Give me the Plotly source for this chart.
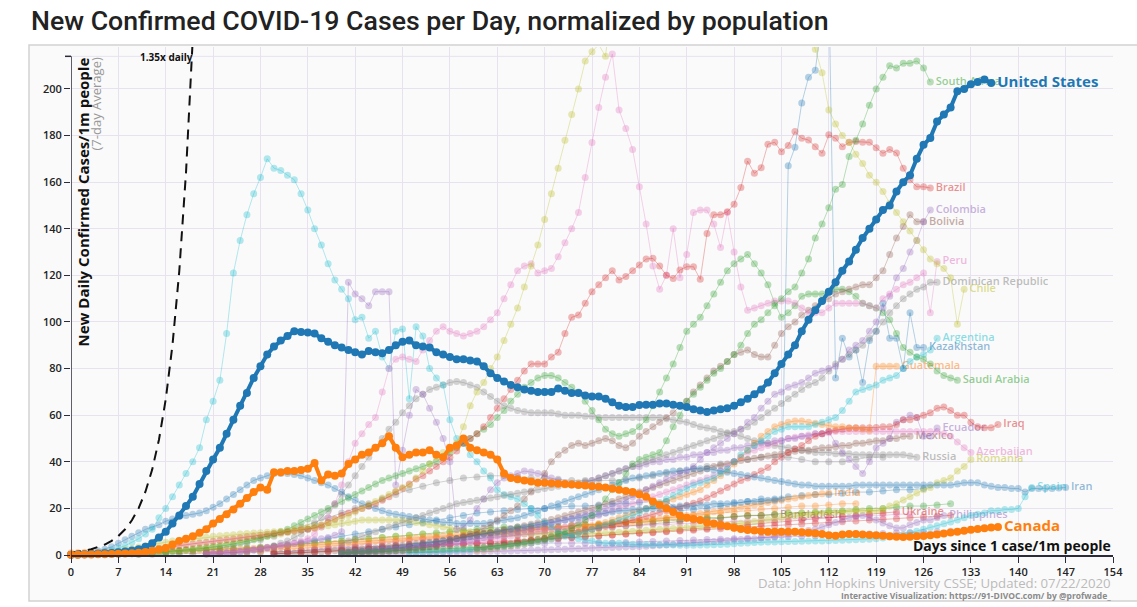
import plotly.graph_objects as go

# ---------------- data (values per day since 1 case / 1m people) ----------------
US_START = 0
US_VALUES = [
    0.1, 0.2, 0.3, 0.4, 0.5, 0.7, 0.9, 1.2, 1.5, 1.9,
    2.5, 3.5, 5, 7.5, 10, 13.5, 17, 21, 25, 30.5,
    36, 41, 46, 52, 58, 64, 69.5, 76, 81, 86,
    89.5, 92, 94, 96, 95.7, 95.5, 95, 93, 91.5, 90,
    89, 88, 87, 86, 87.5, 87, 86.6, 88, 90, 91.5,
    92, 90, 89.5, 89, 87, 86, 85, 84, 84, 83.5,
    83, 81, 78, 76, 74.5, 73, 72, 71, 70.5, 70,
    70, 70, 71.5, 70.5, 69.5, 69.5, 68.5, 68, 68, 67,
    65.5, 64, 63.5, 63.5, 64.4, 64.5, 64.5, 65, 65, 64.5,
    64, 63.5, 62.5, 62, 61.4, 62, 62.5, 63, 64, 65.5,
    67, 69, 71, 74, 78, 82, 86, 90, 96, 101,
    105, 109, 113, 117, 122, 126, 131, 136, 140, 144,
    148, 150, 156, 160, 163, 170, 176, 179, 186, 189,
    192, 199, 200, 202, 203, 204, 202.6,
]

CANADA_START = 0
CANADA_VALUES = [
    0.1, 0.1, 0.2, 0.2, 0.3, 0.3, 0.4, 0.5, 0.6, 0.8,
    1, 1.3, 1.8, 2.4, 3, 4.5, 6, 7, 8, 9.5,
    11, 13.5, 15.5, 17.5, 19.5, 22, 24.5, 27, 29, 28,
    35.5, 35.5, 36, 36, 36.5, 37, 39.5, 32, 34.5, 34,
    35, 39, 41, 43, 44, 46, 48, 51, 46, 42,
    43, 44, 44, 45, 43, 42, 46, 47, 50, 46,
    45, 44, 43, 41, 35, 33, 32.5, 32, 31.5, 31,
    31, 30.8, 30.6, 30.5, 30.3, 30, 29.8, 29.5, 29.3, 29,
    28.5, 28, 27.5, 27, 26, 25, 23, 21.5, 20, 18.5,
    17, 16, 15.5, 15, 14, 13.5, 13, 12.3, 11.7, 11.2,
    10.7, 10.5, 10.2, 10, 10, 10, 10, 10, 9.8, 9.6,
    9.3, 9, 8.5, 8.3, 8.8, 9, 9, 8.8, 8.6, 8.5,
    8.3, 8, 7.8, 7.7, 7.8, 8, 8.2, 8.5, 8.8, 9.2,
    9.7, 10, 10.4, 10.8, 11.2, 11.5, 11.8, 12,
]

SPAIN_START = 0
SPAIN_VALUES = [
    0.1, 0.2, 0.3, 0.5, 0.8, 1.2, 2, 3, 4, 5.5, 7,
    9, 11, 16, 20, 25, 30, 35, 40, 46, 58,
    66, 75, 95, 121, 135, 146, 155, 162, 170,
    166, 165, 163, 161, 155, 148, 140, 133, 125, 118, 114,
    110, 101, 102, 93, 96, 85, 80, 96, 97, 67,
    98, 94, 80, 76, 73, 58, 50, 48, 43, 40,
    36, 33, 28, 26, 25, 24, 22, 20, 17, 14,
    12, 10, 9, 8, 7, 6.5, 6, 5.5, 5, 5,
    5, 4.8, 4.6, 4.5, 4.5, 4.4, 4.4, 4.3, 4.3, 4.2,
    4.2, 4.2, 4.3, 4.3, 4.4, 4.5, 4.6, 4.8, 5, 5.2,
    5.4, 5.5, 5.6, 5.6, 5.7, 5.8, 5.8, 5.9, 6, 6,
    6, 6.1, 6.2, 6.3, 6.4, 6.5, 6.6, 6.8, 7, 7.3,
    7.7, 8.2, 8.8, 9.5, 10.2, 11, 11.8, 12.6, 13.4, 14.2,
    15, 16, 17, 17.5, 18, 19, 19, 19.5, 19.5, 20, 25, 29,
]

IRAN_START = 0
IRAN_VALUES = [
    0.3, 0.5, 0.8, 1.2, 1.8, 2.5, 3.5, 5, 6.5, 8, 9.5,
    11, 12, 13, 14.5, 15.5, 16.5, 17, 17.5, 18, 19,
    20.5, 22, 24, 26, 28, 30, 32, 33, 34, 35,
    35, 35, 34.5, 34, 33, 32, 31, 30, 28.5, 27,
    25, 23.5, 22, 21, 20, 19, 18, 17.5, 17, 16.5,
    16, 15.5, 15, 14.5, 14, 14, 13.5, 13.5, 13.5, 13.5,
    13.5, 14, 14.5, 15, 15.5, 16, 17, 18, 19, 20,
    21, 22, 23, 24, 25, 26, 27, 28, 29, 30,
    31, 32, 33, 33.5, 34, 34.5, 35, 35.5, 36, 36,
    36.5, 37, 37, 37, 36.5, 36, 35.5, 35, 34.5, 34,
    33.5, 33, 32.5, 32, 31.5, 31, 30.5, 30, 30, 29.5,
    29.5, 29.5, 29.5, 29.5, 29.5, 30, 30, 30, 30, 30,
    30, 30, 30, 30, 30, 30, 30, 30, 30, 30,
    30.5, 31, 31, 31, 30, 29.5, 29, 29, 28.5, 28.5,
    27, 28.5, 28.5, 28.5, 28.5, 28.7, 29,
]

CHILE_START = 0
CHILE_VALUES = [
    0.1, 0.2, 0.3, 0.5, 0.7, 1, 1.3, 1.7, 2.2, 2.8, 3.4,
    4, 4.5, 5, 5.5, 6, 6.3, 6.6, 7, 7.3, 7.6,
    8, 8.3, 8.5, 8.7, 9, 9.2, 9.4, 9.6, 9.8, 10,
    10.2, 10.5, 11, 11.5, 12, 12.5, 13, 14, 15, 16,
    17, 18.5, 20, 21.5, 23, 24.5, 26, 27.5, 29, 30,
    33, 36, 39, 42, 44, 45, 48, 55, 64, 70,
    74, 80, 85, 92, 99, 106, 115, 124, 133, 144,
    155, 166, 178, 189, 200, 212, 216, 219, 214, 240,
    255, 265, 275, 285, 295, 305, 315, 320, 325, 330,
    335, 340, 345, 340, 335, 330, 325, 320, 310, 300,
    290, 280, 270, 262, 255, 248, 242, 236, 228, 217,
    207, 191, 185, 180, 177, 172, 168, 163, 160, 156,
    151, 147, 143, 139, 135, 131, 127, 125, 123, 119, 99, 114,
]

PERU_START = 20
PERU_VALUES = [
    0.5, 0.7, 0.9, 1.1, 1.4, 1.7, 2, 2.4, 2.8, 3.2, 3.6,
    4, 4.5, 5, 6, 7, 9, 12, 16, 22, 30,
    40, 48, 52, 56, 59, 70, 80, 84, 85, 84,
    83, 88, 92, 96, 98, 96, 95, 94, 95, 96,
    98, 101, 104, 110, 116, 122, 124, 125, 121, 122,
    123, 128, 134, 140, 147, 162, 177, 192, 205, 215,
    191, 183, 174, 158, 142, 124, 114, 120, 140, 119,
    129, 147, 148, 148, 142, 132, 147, 130, 115, 105,
    106, 107, 108, 109, 109, 109, 108, 106, 104, 104,
    104, 106, 108, 108, 108, 108, 108, 107, 106, 110,
    112, 114, 116, 117, 119, 121, 104, 126,
]

BRAZIL_START = 0
BRAZIL_VALUES = [
    0.2, 0.3, 0.4, 0.5, 0.7, 0.8, 1, 1.2, 1.5, 1.7, 2,
    2.3, 2.6, 2.9, 3.2, 3.6, 4, 4.4, 4.8, 5.1, 5.5,
    5.9, 6.3, 6.6, 7, 7.4, 7.8, 8.1, 8.5, 8.9, 9.3,
    9.6, 10, 10.4, 10.8, 11.2, 11.6, 12.8, 14, 15.5, 17,
    18, 19, 20, 21, 22, 23.5, 25, 27, 28.5, 30.5,
    32.6, 34, 36, 38, 40, 42, 44.6, 48, 50, 52,
    55, 59, 63, 67, 71, 75, 79, 82, 82, 82,
    85, 87, 95, 102, 103, 108, 113, 116, 119, 122,
    118, 119.5, 122, 124.5, 127, 127.3, 124, 120, 118.7, 122.3,
    123.7, 123.7, 118.3, 138, 146, 146, 147.3, 150.5, 157.7, 169,
    163.8, 166.2, 176.3, 177.1, 173.1, 175.7, 181.7, 178.8, 178.1, 175.2,
    172.4, 180.3, 178.8, 175.2, 177.1, 177.4, 177.1, 177.1, 174.8, 172.4,
    174, 172.5, 166, 161, 158, 158, 157.5,
]

SOUTH_AFRICA_START = 40
SOUTH_AFRICA_VALUES = [
    1, 1.1, 1.2, 1.3, 1.4, 1.5, 1.6, 1.7, 1.8, 1.9, 2,
    2.1, 2.2, 2.3, 2.4, 2.5, 2.6, 2.7, 2.8, 2.9, 3,
    3.3, 3.6, 3.9, 4.2, 4.6, 5, 5.5, 6, 6.5, 7,
    8, 9, 10, 11.5, 13, 15, 17, 20, 24, 28,
    31, 35, 39, 41, 42, 43, 44, 49, 55, 60,
    66, 69, 72, 75, 78, 80, 83, 86, 90, 95,
    99, 101, 104, 107, 110, 113, 115, 121, 127, 136,
    142, 149, 157, 159, 171, 178, 185, 193, 200, 205,
    210, 209, 211, 211, 212, 209, 203,
]

SAUDI_START = 10
SAUDI_VALUES = [
    0.5, 0.7, 0.9, 1.1, 1.3, 1.5, 1.8, 2.1, 2.4, 2.7, 3,
    3.4, 3.8, 4.2, 4.7, 5.2, 5.8, 6.5, 7.2, 8, 9,
    10, 11, 12.5, 14, 15.5, 17, 18.5, 20, 21.5, 23,
    24.5, 26, 27.5, 29, 30.5, 32, 33, 34, 35, 36,
    37, 38, 39, 40, 42, 44, 46, 48, 50, 52,
    54, 56, 59, 62, 66, 69, 72, 74, 76, 77,
    77, 76, 74, 72, 70, 66, 62, 58, 54, 52,
    51, 52, 53, 55, 58, 64, 70, 76, 82, 89,
    96, 99, 102, 107, 112, 117, 122, 125, 127, 129,
    125, 121, 116, 108, 102, 104, 107, 111, 112, 112,
    112, 113, 114, 114, 113, 111, 108, 107, 106, 104,
    101, 95, 89, 87, 85, 84, 82, 79, 77, 76, 75,
]

COLOMBIA_START = 40
COLOMBIA_VALUES = [
    1, 1.2, 1.4, 1.6, 1.8, 2, 2.2, 2.4, 2.6, 2.8, 3,
    3.3, 3.6, 4, 4.4, 4.8, 5.2, 5.6, 6, 6.5, 7,
    7.5, 8, 8.5, 9, 9.5, 10, 10.7, 11.4, 12.1, 12.8,
    13.5, 14.2, 15, 15.8, 16.6, 17.4, 18.2, 19, 20, 21,
    22, 23.5, 25, 26.5, 28, 29.5, 31, 32.5, 34, 35,
    36, 38, 41, 44, 46, 48, 50, 52, 54, 57,
    59, 63, 66, 69, 70, 72, 73, 74, 76, 78,
    79, 80, 81, 84, 88, 90, 92, 96, 100, 106,
    111, 119, 123, 130, 135, 143, 148,
]

BOLIVIA_START = 40
BOLIVIA_VALUES = [
    0.5, 0.6, 0.7, 0.8, 1, 1.2, 1.4, 1.6, 1.8, 2, 2.3,
    2.6, 3, 3.5, 4, 5, 6, 7, 8, 9, 10,
    11.5, 13, 15, 17, 19, 21, 24, 27, 31, 35,
    40, 43, 45, 47, 48, 47, 48, 49, 50, 49,
    47, 46, 48, 51, 53, 55, 57, 59, 61, 64,
    66, 70, 73, 76, 79, 81, 83, 86, 87, 88,
    86, 85, 85, 90, 95, 98, 100, 103, 105, 107,
    109, 110, 112, 113, 114, 115, 116, 116, 119, 122,
    129, 136, 141, 146, 143, 143,
]

DOMINICAN_START = 40
DOMINICAN_VALUES = [
    5, 6, 7, 8, 9, 10, 11, 12, 13, 14, 15,
    16, 17, 18, 19, 20, 21, 22, 22.5, 23, 23.5,
    24, 24.5, 25, 25.5, 26, 26.5, 27, 27.5, 28, 28.5,
    29, 29.5, 30, 30.5, 31, 31.5, 32, 33, 34, 35,
    36, 37, 38, 39, 40, 41, 42, 43, 44, 45,
    46, 47, 48, 49, 50, 51, 52, 53, 54, 55,
    57, 59, 61, 63, 65, 67, 69, 71, 73, 74,
    76, 79, 82, 84, 86, 88, 90, 93, 96, 100,
    104, 107, 110, 112, 114, 115, 117, 117,
]

ARGENTINA_START = 50
ARGENTINA_VALUES = [
    1, 1.1, 1.2, 1.3, 1.4, 1.5, 1.7, 1.9, 2.1, 2.3, 2.5,
    2.7, 3, 3.3, 3.6, 4, 4.4, 4.8, 5.2, 5.7, 6.2,
    6.8, 7.4, 8, 8.7, 9.4, 10, 11, 12, 13, 14,
    15, 16, 17, 18, 19.5, 21, 22.5, 24, 25.5, 27,
    28.5, 30, 31, 32, 33, 35, 37, 40, 43, 45,
    47, 49, 51, 53, 54, 55, 55, 55, 55, 56,
    57, 58, 59, 62, 66, 70, 71, 72, 73, 75,
    76, 77, 80, 83, 85, 86, 88, 93,
]

KAZAKHSTAN_START = 40
KAZAKHSTAN_VALUES = [
    1, 1.2, 1.4, 1.6, 1.8, 2, 2.3, 2.6, 3, 3.4, 3.8,
    4.2, 4.6, 5, 5.5, 6, 6.5, 7, 7.5, 8, 8.5,
    9, 9.5, 10, 10.5, 11, 11.5, 12, 12.5, 13, 13.5,
    14, 14.5, 15, 15.5, 16, 16.5, 17, 17.5, 18, 18.5,
    19, 19, 19.5, 19.5, 20, 20, 20, 20.5, 20.5, 21,
    21, 21, 21.5, 21.5, 22, 22, 22, 22.5, 22.5, 23,
    23, 23, 23.5, 23.5, 24, 167, 175, 194, 205, 208,
    230, 245, 76, 93, 85, 88, 74, 92, 96, 108,
    93, 93, 80, 104, 89, 89,
]

GUATEMALA_START = 60
GUATEMALA_VALUES = [
    2, 2.3, 2.6, 3, 3.4, 3.8, 4.2, 4.7, 5.2, 5.8, 6.4,
    7, 7.7, 8.5, 9.3, 10, 11, 12, 13, 14, 15,
    16, 17, 18, 19, 20, 21, 22, 23, 24, 25,
    26, 27, 28, 30, 32, 34, 36, 39, 42, 45,
    48, 51, 53, 55, 56, 57, 57.5, 57.5, 57, 56.5,
    56, 55.5, 55, 55, 54.5, 54.5, 54, 53.5, 81, 81, 81, 81,
]

INDIA_START = 0
INDIA_VALUES = [
    1, 1.1, 1.2, 1.3, 1.3, 1.4, 1.4, 1.5, 1.5, 1.6, 1.6,
    1.7, 1.7, 1.8, 1.8, 1.9, 1.9, 2, 2, 2.1, 2.2,
    2.3, 2.4, 2.5, 2.6, 2.7, 2.8, 2.9, 3, 3.1, 3.2,
    3.3, 3.5, 3.7, 3.9, 4.1, 4.3, 4.5, 4.7, 4.9, 5.1,
    5.3, 5.5, 5.7, 5.9, 6.1, 6.3, 6.5, 6.7, 6.9, 7.1,
    7.3, 7.5, 7.7, 7.9, 8.1, 8.3, 8.5, 8.7, 8.9, 9.1,
    9.3, 9.5, 9.7, 9.9, 10.1, 10.3, 10.5, 10.7, 10.9, 11.1,
    11.3, 11.5, 11.7, 11.9, 12.1, 12.3, 12.5, 12.7, 12.9, 13.1,
    13.4, 13.7, 14, 14.3, 14.6, 15, 15.4, 15.8, 16.2, 16.6,
    17, 17.4, 17.8, 18.2, 18.6, 19, 19.5, 20, 20.5, 21,
    21.5, 22, 22.5, 23, 23.5, 24, 24.5, 25, 25.5, 26, 26.3, 26.6,
]

IRAQ_START = 60
IRAQ_VALUES = [
    3, 3.3, 3.6, 4, 4.4, 4.8, 5.2, 5.7, 6.2, 6.7, 7.2,
    7.7, 8.2, 8.7, 9.2, 9.8, 10.4, 11, 11.6, 12.2, 12.8,
    13.5, 14.2, 15, 15.8, 16.6, 17.4, 18.2, 19, 19.8, 20.5,
    21.3, 22.2, 23.2, 24.5, 26, 27.5, 29, 30.5, 32, 33,
    34.5, 36, 37.5, 40, 42, 44, 45.5, 47, 49, 51,
    52, 53, 53.5, 54, 54.5, 54.6, 54.6, 54.6, 54.7, 55,
    55, 56, 58, 58, 59, 60, 61, 63, 63.5, 62,
    60, 60, 57, 55, 54.6, 54.6, 56,
]

ECUADOR_START = 20
ECUADOR_VALUES = [
    0.5, 0.6, 0.8, 1, 1.2, 1.5, 1.8, 2.2, 2.6, 3, 3.5,
    4, 4.5, 5, 5.5, 6, 6.5, 7, 7.5, 8.5, 10,
    117, 112, 110, 107, 113, 113, 113, 30, 45, 60,
    71, 69, 63, 57, 50, 40, 11, 12, 15, 20,
    24, 28, 31, 33, 34, 35, 36, 35.6, 35, 34,
    33, 32, 31, 30, 30, 31, 32, 33, 34, 35,
    36, 37, 38, 38, 39, 40, 40, 41, 41, 42,
    42, 43, 43, 44, 44, 45, 45, 46, 46, 47,
    47, 48, 48, 49, 49, 50, 50, 51, 51, 52,
    52, 53, 48, 44, 41, 38, 35, 40, 46, 48,
    50, 57, 58, 60, 59, 51, 51, 54.5,
]

MEXICO_START = 30
MEXICO_VALUES = [
    0.5, 0.6, 0.7, 0.8, 0.9, 1, 1.2, 1.4, 1.6, 1.8, 2,
    2.2, 2.4, 2.6, 2.8, 3, 3.3, 3.6, 3.9, 4.2, 4.5,
    4.8, 5.1, 5.5, 5.9, 6.3, 6.7, 7.1, 7.6, 8.1, 8.6,
    9.1, 9.6, 10.2, 10.8, 11.4, 12, 12.6, 13.2, 13.8, 14.5,
    15.2, 16, 16.8, 17.6, 18.4, 19.2, 20, 21, 22, 23,
    24, 25, 26, 27, 28, 29, 30, 31, 32, 33,
    34, 35, 36, 37, 38, 38.5, 39, 40, 40.5, 41,
    41.5, 42, 42.5, 43, 43.5, 44, 44.5, 45, 45, 45.5,
    46, 46, 46.5, 47, 47, 48, 48, 48.5, 49, 49, 50, 50, 51, 51,
]

AZERBAIJAN_START = 40
AZERBAIJAN_VALUES = [
    1, 1.2, 1.4, 1.6, 1.8, 2, 2.2, 2.4, 2.6, 2.8, 3,
    3.2, 3.4, 3.6, 3.8, 4, 4.3, 4.6, 5, 5.4, 5.8,
    6.2, 6.6, 7, 7.5, 8, 8.5, 9, 9.5, 10, 10.5,
    11, 11.5, 12, 13, 14, 15, 16, 17, 18, 19,
    20, 21, 22, 23, 24, 25, 26, 27, 28, 29,
    30, 31, 32, 33, 34, 36, 38, 40, 42, 44,
    45, 46, 47, 48, 49, 50, 50.5, 51, 51.5, 52,
    52, 52.5, 53, 53, 53, 53, 53, 53, 53, 53,
    53, 53, 53, 53, 53, 53, 53, 53, 52, 51, 48.5, 46, 44,
]

RUSSIA_START = 20
RUSSIA_VALUES = [
    0.3, 0.4, 0.5, 0.7, 0.9, 1.2, 1.6, 2, 2.6, 3.3, 4,
    5, 6, 7.5, 9, 11, 13, 16, 19, 22, 26,
    30, 34, 38, 42, 46, 50, 54, 57, 61, 64,
    67, 69, 71, 72, 73, 74, 74.5, 74, 73, 72,
    70, 68, 66, 64, 63, 62, 61.5, 61, 61, 61,
    61, 60.5, 60, 60, 60, 59.5, 59.5, 59, 59, 59,
    59, 59, 59, 59, 59, 59, 59, 58.5, 58, 57.5,
    57, 56, 55, 54.5, 54, 53, 52.5, 52, 51, 50,
    49, 48.5, 48, 47, 46.5, 46, 45.5, 45, 44.5, 44,
    44, 44, 43.5, 43.5, 43.5, 43, 43, 43, 43, 43, 43, 43, 43, 42.5, 42,
]

ROMANIA_START = 10
ROMANIA_VALUES = [
    0.5, 0.7, 0.9, 1.1, 1.4, 1.7, 2, 2.4, 2.8, 3.2, 3.6,
    4, 4.5, 5, 5.5, 6, 6.5, 7, 7.5, 8, 8.5,
    9, 9.5, 10, 10.5, 11, 11.5, 12, 12.5, 13, 13.5,
    14, 14.5, 15, 15, 15, 15, 15, 15, 15, 14.5,
    14, 13.5, 13, 12.5, 12, 11.5, 11, 10.5, 10, 9.8,
    9.6, 9.4, 9.2, 9, 9, 9, 9, 9, 9, 9,
    9, 9, 9, 9, 9, 9, 9, 9.2, 9.4, 9.6,
    9.8, 10, 10.2, 10.4, 10.6, 10.8, 11, 11.2, 11.4, 11.6,
    11.8, 12, 12.2, 12.4, 12.6, 12.8, 13, 13.3, 13.6, 14,
    14.4, 14.8, 15.2, 15.6, 16, 16.4, 16.8, 17, 17.4, 17.8,
    18, 18.2, 18.4, 18.6, 18.8, 19, 19, 19, 19, 20,
    21, 22, 23.6, 25, 26.6, 28, 29, 31, 32, 33, 36, 38, 41,
]

PHILIPPINES_START = 40
PHILIPPINES_VALUES = [
    0.5, 0.5, 0.6, 0.6, 0.7, 0.7, 0.8, 0.8, 0.9, 0.9, 1,
    1, 1.1, 1.1, 1.2, 1.2, 1.3, 1.3, 1.4, 1.4, 1.5,
    1.5, 1.6, 1.6, 1.7, 1.7, 1.8, 1.9, 2, 2.1, 2.2,
    2.3, 2.4, 2.5, 2.6, 2.7, 2.8, 2.9, 3, 3.1, 3.2,
    3.3, 3.4, 3.5, 3.6, 3.8, 4, 4.2, 4.4, 4.6, 4.8,
    5, 5.2, 5.4, 5.6, 5.8, 6, 6.2, 6.4, 6.6, 6.8,
    7, 7.3, 7.6, 8, 8.5, 9, 9.5, 10, 10.5, 11,
    12, 13, 14, 15, 16, 16.5, 17, 16, 15, 13.7,
    12.5, 11.6, 11.6, 13, 14, 15, 15, 16, 17,
]

# every second day
UKRAINE_START = 30
UKRAINE_VALUES = [
    0.5, 0.7, 0.9, 1.1, 1.3, 1.6, 1.9, 2.2, 2.5, 2.8,
    3.1, 3.4, 3.7, 4, 4.3, 4.6, 5, 5.4, 5.8, 6.2,
    6.6, 7, 7.4, 7.8, 8.2, 8.6, 9, 9.4, 9.8, 10.2,
    10.6, 11, 11.5, 12, 12.5, 13, 13.5, 14, 14.5, 15,
    15.5, 16, 16.5, 17, 17.5, 18, 18.5,
]

BANGLADESH_START = 10
BANGLADESH_VALUES = [
    0.2, 0.3, 0.4, 0.5, 0.6, 0.7, 0.8, 0.9, 1, 1.2,
    1.4, 1.6, 1.8, 2, 2.3, 2.6, 3, 3.4, 3.8, 4.2,
    4.6, 5, 5.5, 6, 6.5, 7, 7.5, 8, 8.5, 9,
    9.5, 10, 10.5, 11, 11.5, 12, 12.5, 13, 13.5, 14,
    14.5, 15, 15.5, 16, 16.5, 16.8, 17, 17.2,
]

# unlabeled countries (every second day)
OTHER_A_START = 20
OTHER_A_VALUES = [
    2, 3, 4, 5, 6.5, 8, 10, 12, 14, 16,
    18, 20, 22, 24, 26, 28, 29.5, 31, 32, 33,
    33.5, 34, 34, 33.5, 33, 33, 32.5, 32, 32, 32,
    32, 32.5, 33, 34, 35, 36, 37, 38, 39, 40,
    41, 42, 42, 42, 41, 40, 40, 40, 41, 42, 42,
]
OTHER_B_START = 10
OTHER_B_VALUES = [
    0.5, 0.8, 1.1, 1.4, 1.7, 2, 2.3, 2.6, 3, 3.4,
    3.8, 4.2, 4.6, 5, 5.5, 6, 6.5, 7, 7.5, 8,
    8.5, 9, 9.5, 10, 10.5, 11, 11.5, 12, 12, 12,
    12, 12, 12.5, 13, 13, 13.5, 14, 14, 14.5, 15,
    15, 15.5, 16, 16, 16.5, 17, 17, 17.5, 18, 18,
    18.5, 19, 19, 19.5, 20, 20, 20.5, 21, 21, 21.5, 22,
]
OTHER_C_START = 20
OTHER_C_VALUES = [
    1, 1.5, 2, 2.5, 3, 3.5, 4, 4.5, 5, 5.5,
    6, 6.5, 7, 7.5, 8, 8.5, 9, 9, 9.5, 10,
    10, 10.5, 11, 11, 11.5, 12, 12, 12.5, 13, 13,
    13.5, 14, 14, 14.5, 15, 15, 15.5, 16, 16, 16.5,
    17, 17, 17.5, 18, 18, 18, 18.5, 18.5, 19, 19, 19,
]
OTHER_D_START = 20
OTHER_D_VALUES = [
    1, 1.5, 2, 2.5, 3, 3.5, 4, 5, 6, 7,
    8, 9, 10, 11, 12, 13, 14, 15, 16, 17,
    18, 18.5, 19, 19.5, 20, 20, 20.5, 21, 21, 21.5,
    22, 22, 22.5, 23, 23, 19, 19.5, 20, 21, 22,
    23, 24, 24, 25, 25.5, 26, 26, 26.5, 27, 27,
    27.5, 28, 28, 28.5,
]
OTHER_E_START = 20
OTHER_E_VALUES = [
    0.5, 0.8, 1, 1.3, 1.6, 2, 2.4, 2.8, 3.2, 3.6,
    4, 4.5, 5, 5.5, 6, 6.5, 7, 7.5, 8, 8.5,
    9, 9.5, 10, 10.5, 11, 11.5, 12, 12.5, 13, 13.5,
    14, 14.5, 15, 15.5, 16, 16.5, 17, 17.5, 18, 18.5,
    19, 19.5, 20, 20.5, 21, 21, 21.5, 22, 22,
]
OTHER_F_START = 30
OTHER_F_VALUES = [
    1, 1.5, 2, 2.5, 3, 3.2, 3.4, 3.6, 3.8, 4,
    4.2, 4.4, 4.6, 4.8, 5, 5, 5, 5, 5, 5,
    5, 5, 5, 5, 5, 5.2, 5.4, 5.6, 5.8, 6,
    6.2, 6.4, 6.6, 6.8, 7, 7.2, 7.4, 7.6, 7.8, 8,
    8.2, 8.4, 8.6, 8.8, 9, 9.2, 9.4, 9.6, 9.8, 10, 10.2,
]
OTHER_G_START = 30
OTHER_G_VALUES = [
    0.5, 0.8, 1, 1.3, 1.6, 2, 2.3, 2.6, 3, 3.3,
    3.6, 4, 4.3, 4.6, 5, 5.3, 5.6, 6, 6.3, 6.6,
    7, 7.3, 7.6, 8, 8.3, 8.6, 9, 9.3, 9.6, 10,
    10.3, 10.6, 11, 11.3, 11.6, 12, 12.3, 12.6, 13, 13.3,
    13.6, 14, 14.3, 14.6, 15, 15.3, 15.6, 16, 16.3, 16.6, 17,
]
OTHER_H_START = 30
OTHER_H_VALUES = [
    1, 1.5, 2, 2.5, 3, 3.5, 4, 4.5, 5, 5.5,
    6, 6.5, 7, 7.5, 8, 8.5, 9, 9.5, 10, 10.5,
    11, 11, 11.5, 11.5, 12, 12, 12.5, 12.5, 13, 13,
    13.5, 13.5, 14, 14, 14.5, 14.5, 15, 15, 15.5, 15.5,
    16, 16, 16.5, 16.5, 17, 17, 17.5, 17.5,
]

GROWTH_RATE = 1.35
GROWTH_DAYS = list(range(0, 19))

X_TICKS = list(range(0, 155, 7))
Y_TICKS = list(range(0, 201, 20))

# ---------------- styling ----------------
FONT = "Open Sans"
TITLE_FONT = "Roboto"
W, H = 1137, 607
ML, MR, MT, MB = 71, 24, 47, 52
PW, PH = W - ML - MR, H - MT - MB
X_RANGE = [0, 154]
Y_RANGE = [0, 218]
Y_AXIS_TOP = 214

BLUE, ORANGE, GREEN, RED, PURPLE = "#1f77b4", "#ff7f0e", "#2ca02c", "#d62728", "#9467bd"
BROWN, PINK, GRAY, OLIVE, CYAN = "#8c564b", "#e377c2", "#7f7f7f", "#bcbd22", "#17becf"


def rgba(hex_color, a):
    h = hex_color.lstrip("#")
    r, g, b = int(h[0:2], 16), int(h[2:4], 16), int(h[4:6], 16)
    return f"rgba({r},{g},{b},{a})"


def px_x(px):
    return (px - ML) / PW


def px_y(py):
    return (H - MB - py) / PH


background = [
    # label, color, start, step, values
    (None, BLUE, OTHER_D_START, 2, OTHER_D_VALUES),
    (None, GREEN, OTHER_B_START, 2, OTHER_B_VALUES),
    (None, OLIVE, OTHER_C_START, 2, OTHER_C_VALUES),
    (None, ORANGE, OTHER_E_START, 2, OTHER_E_VALUES),
    (None, PURPLE, OTHER_F_START, 2, OTHER_F_VALUES),
    (None, RED, OTHER_G_START, 2, OTHER_G_VALUES),
    (None, PINK, OTHER_H_START, 2, OTHER_H_VALUES),
    (None, GRAY, OTHER_A_START, 2, OTHER_A_VALUES),
    ("Bangladesh", BROWN, BANGLADESH_START, 2, BANGLADESH_VALUES),
    ("Ukraine", RED, UKRAINE_START, 2, UKRAINE_VALUES),
    ("Philippines", PURPLE, PHILIPPINES_START, 1, PHILIPPINES_VALUES),
    ("India", ORANGE, INDIA_START, 1, INDIA_VALUES),
    ("Romania", OLIVE, ROMANIA_START, 1, ROMANIA_VALUES),
    ("Russia", GRAY, RUSSIA_START, 1, RUSSIA_VALUES),
    ("Mexico", BROWN, MEXICO_START, 1, MEXICO_VALUES),
    ("Azerbaijan", PINK, AZERBAIJAN_START, 1, AZERBAIJAN_VALUES),
    ("Ecuador", PURPLE, ECUADOR_START, 1, ECUADOR_VALUES),
    ("Iraq", RED, IRAQ_START, 1, IRAQ_VALUES),
    ("Guatemala", ORANGE, GUATEMALA_START, 1, GUATEMALA_VALUES),
    ("Iran", BLUE, IRAN_START, 1, IRAN_VALUES),
    ("Spain", CYAN, SPAIN_START, 1, SPAIN_VALUES),
    ("Argentina", CYAN, ARGENTINA_START, 1, ARGENTINA_VALUES),
    ("Kazakhstan", BLUE, KAZAKHSTAN_START, 1, KAZAKHSTAN_VALUES),
    ("Saudi Arabia", GREEN, SAUDI_START, 1, SAUDI_VALUES),
    ("Dominican Republic", GRAY, DOMINICAN_START, 1, DOMINICAN_VALUES),
    ("Bolivia", BROWN, BOLIVIA_START, 1, BOLIVIA_VALUES),
    ("Colombia", PURPLE, COLOMBIA_START, 1, COLOMBIA_VALUES),
    ("Peru", PINK, PERU_START, 1, PERU_VALUES),
    ("Brazil", RED, BRAZIL_START, 1, BRAZIL_VALUES),
    ("Chile", OLIVE, CHILE_START, 1, CHILE_VALUES),
    ("South Africa", GREEN, SOUTH_AFRICA_START, 1, SOUTH_AFRICA_VALUES),
]

fig = go.Figure()

for label, color, start, step, values in background:
    days = [start + i * step for i in range(len(values))]
    text = [""] * len(values)
    if label:
        text[-1] = label
    fig.add_trace(go.Scatter(
        x=days, y=values, mode="lines+markers+text" if label else "lines+markers",
        text=text, textposition="middle right",
        textfont=dict(family=FONT, size=11, color=rgba(color, 0.5), weight=600),
        line=dict(color=rgba(color, 0.32), width=1),
        marker=dict(color=rgba(color, 0.32), size=7, line=dict(width=0)),
        cliponaxis=max(values) > Y_RANGE[1],
        hoverinfo="skip", showlegend=False,
    ))

# exponential reference line
fig.add_trace(go.Scatter(
    x=GROWTH_DAYS, y=[GROWTH_RATE ** d for d in GROWTH_DAYS], mode="lines",
    line=dict(color="#111", width=2, dash="10px,7px"),
    hoverinfo="skip", showlegend=False,
))

for label, color, start, values in [
    ("United States", BLUE, US_START, US_VALUES),
    ("Canada", ORANGE, CANADA_START, CANADA_VALUES),
]:
    days = [start + i for i in range(len(values))]
    text = [""] * len(values)
    text[-1] = label
    fig.add_trace(go.Scatter(
        x=days, y=values, mode="lines+markers+text",
        text=text, textposition="middle right",
        textfont=dict(family=FONT, size=15, color=color, weight=700),
        line=dict(color=color, width=4),
        marker=dict(color=color, size=8),
        cliponaxis=False, hoverinfo="skip", showlegend=False,
    ))

GRID = "#e7e1f0"
AXIS = "#2b2b3a"

fig.update_layout(
    width=W, height=H,
    margin=dict(l=ML, r=MR, t=MT, b=MB, pad=0),
    paper_bgcolor="white",
    plot_bgcolor="rgba(0,0,0,0)",
    font=dict(family=FONT, color="#222"),
    xaxis=dict(
        range=X_RANGE, tickvals=X_TICKS, ticktext=[str(v) for v in X_TICKS],
        showgrid=True, gridcolor=GRID, gridwidth=1, zeroline=False,
        showline=True, linecolor=AXIS, linewidth=1.5,
        ticks="outside", ticklen=6, tickcolor=AXIS,
        tickfont=dict(family=FONT, size=11, color="#222", weight=600),
        fixedrange=True,
    ),
    yaxis=dict(
        range=Y_RANGE, tickvals=Y_TICKS, ticktext=[str(v) for v in Y_TICKS],
        showgrid=True, gridcolor=GRID, gridwidth=1, zeroline=False,
        showline=False,
        ticks="outside", ticklen=6, tickcolor=AXIS,
        tickfont=dict(family=FONT, size=11, color="#222", weight=600),
        fixedrange=True,
    ),
    shapes=[
        # light frame around the chart area
        dict(type="rect", xref="paper", yref="paper", x0=px_x(29), x1=px_x(1160),
             y0=px_y(601), y1=px_y(45), fillcolor="#fafafa",
             line=dict(color="#d2d2d2", width=1.5), layer="below"),
        # y axis line and top boundary
        dict(type="line", xref="x", yref="y", x0=0, x1=0, y0=0, y1=Y_AXIS_TOP,
             line=dict(color=AXIS, width=1.5)),
        dict(type="line", xref="paper", yref="y", x0=0, x1=1, y0=Y_AXIS_TOP, y1=Y_AXIS_TOP,
             line=dict(color=GRID, width=1), layer="below"),
        dict(type="line", xref="paper", yref="y", x0=px_x(65), x1=0, y0=Y_AXIS_TOP, y1=Y_AXIS_TOP,
             line=dict(color=AXIS, width=1.5)),
    ],
    annotations=[
        dict(text="New Confirmed COVID-19 Cases per Day, normalized by population",
             xref="paper", yref="paper", x=px_x(29), y=px_y(21), xanchor="left", yanchor="middle",
             showarrow=False, font=dict(family=TITLE_FONT, size=26.7, color="#222", weight=500)),
        dict(text="<b>New Daily Confirmed Cases/1m people</b>", textangle=-90,
             xref="paper", yref="paper", x=px_x(82), y=px_y(56), xanchor="center", yanchor="top",
             showarrow=False, font=dict(family=FONT, size=15, color="#111")),
        dict(text="(7-day Average)", textangle=-90,
             xref="paper", yref="paper", x=px_x(96), y=px_y(56), xanchor="center", yanchor="top",
             showarrow=False, font=dict(family=FONT, size=13, color="#999")),
        dict(text="<b>1.35x daily</b>", xref="paper", yref="paper", x=px_x(166), y=px_y(57),
             xanchor="center", yanchor="middle", showarrow=False,
             font=dict(family=FONT, size=10, color="#111")),
        dict(text="<b>Days since 1 case/1m people</b>", xref="paper", yref="paper",
             x=1, y=px_y(545), xanchor="right", yanchor="middle", showarrow=False,
             font=dict(family=FONT, size=14, color="#111")),
        dict(text="Data: John Hopkins University CSSE; Updated: 07/22/2020", xref="paper", yref="paper",
             x=1, y=px_y(583), xanchor="right", yanchor="middle", showarrow=False,
             font=dict(family=FONT, size=13.2, color="#bbbbbb")),
        dict(text="<b>Interactive Visualization: https://91-DIVOC.com/ by @profwade_</b>",
             xref="paper", yref="paper", x=1, y=px_y(595), xanchor="right", yanchor="middle",
             showarrow=False, font=dict(family=FONT, size=8.5, color="#8a8a8a")),
    ],
)

fig.write_html(
    "out.html",
    config={"displayModeBar": False},
    post_script="document.body.style.margin='0';document.body.style.overflow='hidden';",
)
